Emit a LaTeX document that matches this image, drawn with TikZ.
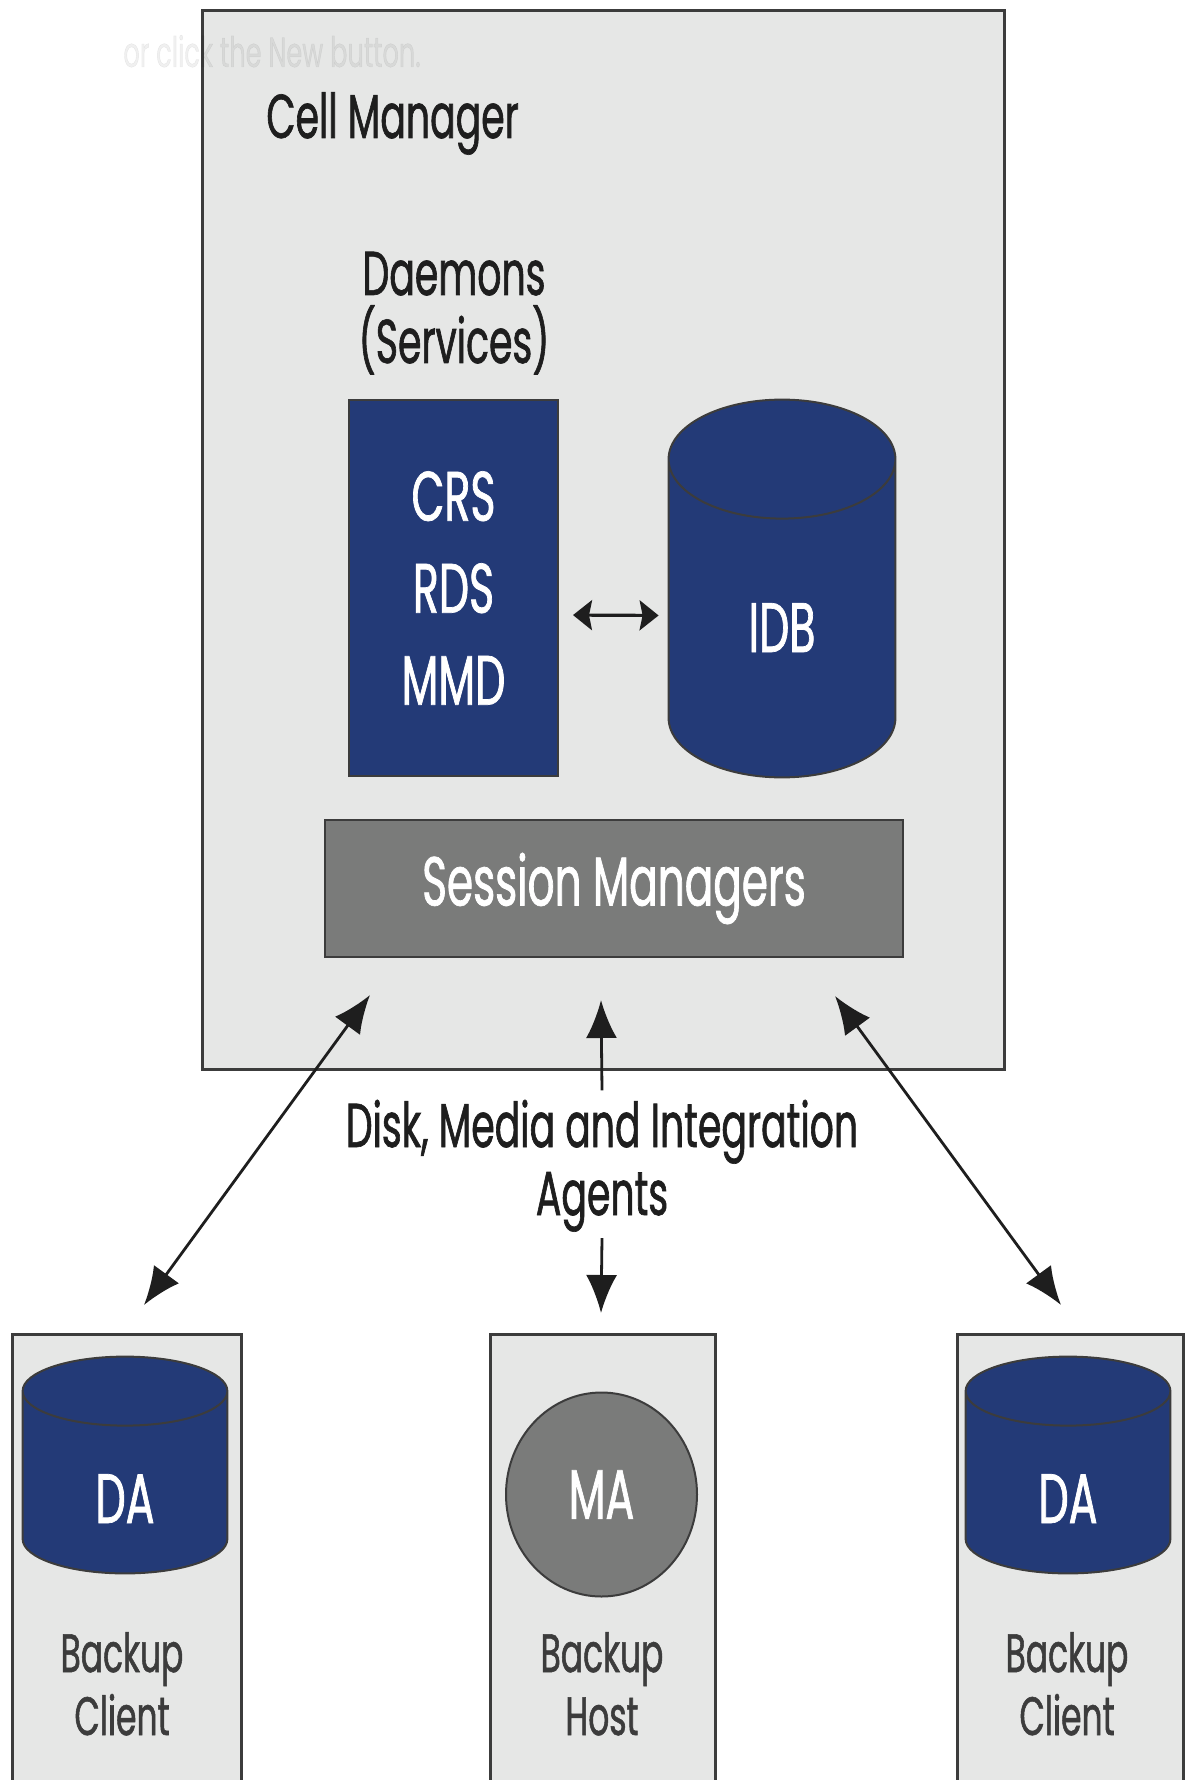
\documentclass[tikz,border=0pt]{standalone}
\usepackage{fontspec}
\setmainfont{Poppins}[FakeStretch=0.61,FakeBold=1]
\usetikzlibrary{shapes.geometric,arrows.meta,calc}
\definecolor{navy}{HTML}{233A77}
\definecolor{boxgray}{HTML}{E6E7E6}
\definecolor{smgray}{HTML}{7A7B7A}
\definecolor{edge}{HTML}{3C3C3C}
\definecolor{ink}{HTML}{1E1E1E}
\tikzset{
  hostbox/.style={draw=edge,fill=boxgray,line width=1.3pt,inner sep=0pt},
  daemonbox/.style={draw=edge,fill=navy,line width=1pt,text=white,align=center,
    font=\fontsize{35}{46}\selectfont},
  dbframe/.style={inner sep=0pt},
  dbline/.style={draw=edge,fill=navy,line width=1pt},
  intext/.style={text=white,font=\fontsize{35}{40}\selectfont},
  title/.style={text=ink,font=\fontsize{31}{34}\selectfont,inner sep=0pt,align=center},
  hostlabel/.style={text=edge,font=\fontsize{27}{31.5}\selectfont,inner sep=0pt,align=center},
  agentarrow/.style={line width=1.4pt,ink},
}
\newcommand\dbshape[2]{%
  \draw[dbline] let \p1=(#1.north west), \p2=(#1.south east), \n1={(\x2-\x1)/2} in
    (\x1,\y1-#2) -- (\x1,\y2+#2) arc[start angle=180,end angle=360,x radius={\n1*1pt},y radius=#2]
    -- (\x2,\y1-#2) arc[start angle=0,end angle=180,x radius={\n1*1pt},y radius=#2] -- cycle
    (\x1,\y1-#2) arc[start angle=180,end angle=360,x radius={\n1*1pt},y radius=#2];
}
\begin{document}
\begin{tikzpicture}[x=0.5pt,y=-0.5pt]
  \clip (0,0) rectangle (1188,1780);
  \fill[white] (0,0) rectangle (1188,1780);

  \node[hostbox,anchor=north west,minimum width=401pt,minimum height=529.5pt] (cell) at (201,9) {};
  \node[text=black,opacity=0.06,font=\fontsize{21}{24}\selectfont,anchor=base west,inner sep=0pt] (ghost) at (123,67) {or click the New button.};
  \node[title,anchor=base west] (cellname) at (266,138) {Cell Manager};
  \node[title,anchor=base] (daemons) at (454,363) {Daemons\\(Services)};

  \node[daemonbox,minimum width=104.5pt,minimum height=188pt] (crs) at (453.5,588) {CRS\\RDS\\MMD};
  \node[dbframe,minimum width=113pt,minimum height=188.5pt] (idb) at (782,588.5) {};
  \dbshape{idb}{29.75pt}
  \node[intext,anchor=base] (idbtext) at (782,652) {IDB};
  \draw[line width=1.6pt,ink,{Stealth[length=9.5pt,width=15pt,inset=1.5pt]}-{Stealth[length=9.5pt,width=15pt,inset=1.5pt]},
    shorten <=7pt,shorten >=5pt] ([yshift=-13.5pt]crs.east) -- ([yshift=-13.5pt]idb.west);

  \node[draw=edge,fill=smgray,line width=1.3pt,minimum width=289pt,minimum height=68.5pt,
    text=white,font=\fontsize{34.6}{38}\selectfont] (session) at (614,888.5) {Session Managers};

  \node[title,anchor=base] (agents) at (602,1215) {Disk, Media and Integration\\Agents};

  \node[hostbox,anchor=north west,minimum width=114.5pt,minimum height=230pt] (client1) at (11,1333) {};
  \node[hostbox,anchor=north west,minimum width=112.5pt,minimum height=230pt] (host) at (489,1333) {};
  \node[hostbox,anchor=north west,minimum width=113pt,minimum height=230pt] (client2) at (956,1333) {};

  \node[dbframe,minimum width=102pt,minimum height=108pt] (da1) at (125,1465) {};
  \dbshape{da1}{17.25pt}
  \node[intext,anchor=base] (da1text) at (125,1523) {DA};
  \node[ellipse,draw=edge,fill=smgray,line width=1pt,minimum width=95.5pt,minimum height=102pt,inner sep=0pt,
    intext] (ma) at (601.5,1494.5) {MA};
  \node[dbframe,minimum width=102pt,minimum height=108pt] (da2) at (1068,1465) {};
  \dbshape{da2}{17.25pt}
  \node[intext,anchor=base] (da2text) at (1068,1523) {DA};

  \node[hostlabel,anchor=base] (client1name) at (122,1735) {Backup\\Client};
  \node[hostlabel,anchor=base] (hostname) at (602,1735) {Backup\\Host};
  \node[hostlabel,anchor=base] (client2name) at (1067,1735) {Backup\\Client};

  \coordinate (lt) at (370,995);
  \coordinate (lb) at (144,1305);
  \coordinate (mt) at (601,1000);
  \coordinate (mb) at (601,1313);
  \coordinate (rt) at (835,996);
  \coordinate (rb) at (1061,1305);
  \begin{scope}[agentarrow]
    \draw[{Latex[length=19pt,width=15.5pt]}-{Latex[length=19pt,width=15.5pt]}] (lt) -- (lb);
    \draw[{Latex[length=19pt,width=15.5pt]}-{Latex[length=19pt,width=15.5pt]}] (rt) -- (rb);
    \draw[-{Latex[length=19pt,width=15.5pt]}] (agents.north) ++(0,-9) -- (mt);
    \draw[-{Latex[length=19pt,width=15.5pt]}] (agents.south) ++(0,6) -- (mb);
  \end{scope}
\end{tikzpicture}
\end{document}
